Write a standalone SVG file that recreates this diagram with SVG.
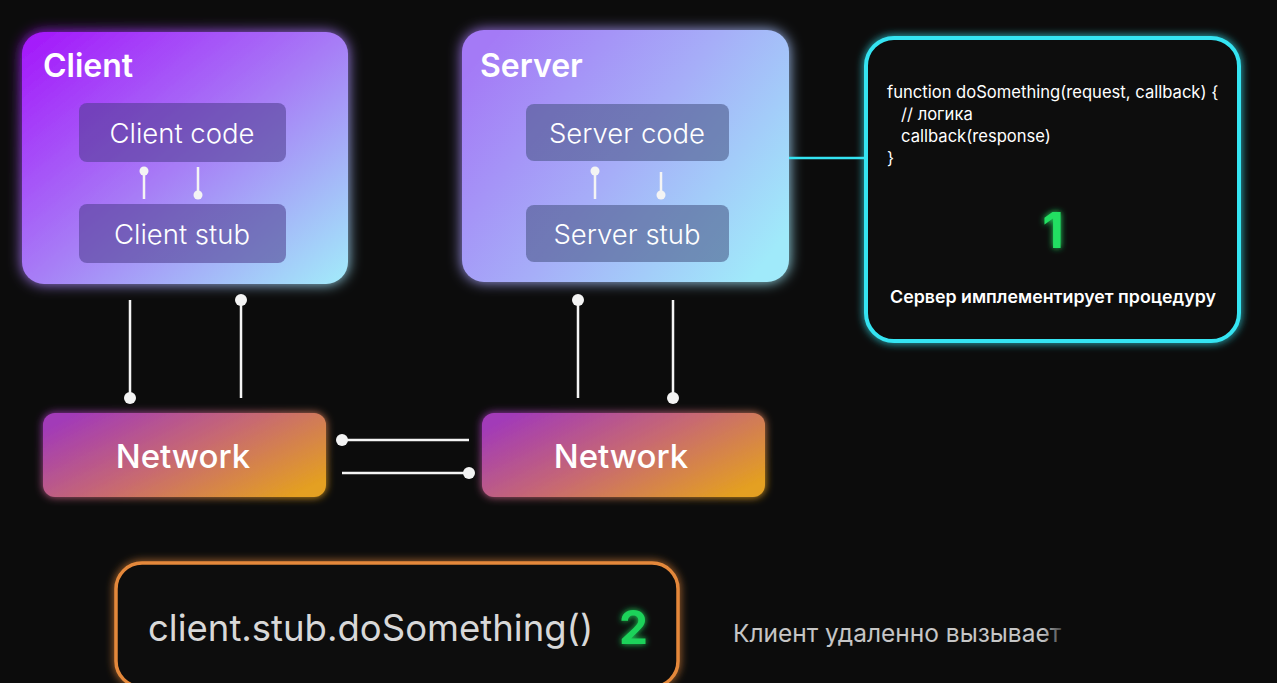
<svg xmlns="http://www.w3.org/2000/svg" width="1277" height="683" viewBox="0 0 1277 683">
<defs>
<linearGradient id="gClient" x1="0" y1="0" x2="1" y2="1">
<stop offset="0" stop-color="#a414fb"/>
<stop offset="0.5" stop-color="#a77cf6"/>
<stop offset="1" stop-color="#a2ecfa"/>
</linearGradient>
<linearGradient id="gServer" x1="0" y1="0.2" x2="1" y2="0.8">
<stop offset="0" stop-color="#a47af6"/>
<stop offset="0.5" stop-color="#a6aef8"/>
<stop offset="1" stop-color="#a0eafa"/>
</linearGradient>
<linearGradient id="gNet" x1="0" y1="0.2" x2="1" y2="0.8">
<stop offset="0" stop-color="#a23ab8"/>
<stop offset="0.5" stop-color="#c86a70"/>
<stop offset="1" stop-color="#e4a020"/>
</linearGradient>
<linearGradient id="gCap" x1="0" y1="0" x2="1" y2="0">
<stop offset="0.94" stop-color="#c6c6c6"/>
<stop offset="1" stop-color="#c6c6c6" stop-opacity="0.3"/>
</linearGradient>
<filter id="glow" x="-20%" y="-20%" width="140%" height="140%">
<feGaussianBlur in="SourceGraphic" stdDeviation="7" result="b"/>
<feMerge><feMergeNode in="b"/><feMergeNode in="SourceGraphic"/></feMerge>
</filter>
<filter id="glowS" x="-20%" y="-20%" width="140%" height="140%">
<feGaussianBlur in="SourceGraphic" stdDeviation="4" result="b"/>
<feMerge><feMergeNode in="b"/><feMergeNode in="SourceGraphic"/></feMerge>
</filter>
<filter id="glowT" x="-50%" y="-50%" width="200%" height="200%">
<feGaussianBlur in="SourceGraphic" stdDeviation="3" result="b"/>
<feMerge><feMergeNode in="b"/><feMergeNode in="SourceGraphic"/></feMerge>
</filter>
</defs>
<style>
text{font-family:Inter,"Liberation Sans","Noto Sans",sans-serif}
.title{fill:#fff;font-size:32px;font-weight:600}
.inner{fill:#4a3a8a;fill-opacity:0.55}
.innerT{fill:#fff;font-size:27.5px;font-weight:300;text-anchor:middle}
.netT{fill:#fff;font-size:33px;font-weight:500;text-anchor:middle}
.code{fill:#fff;font-size:16.6px;font-weight:400}
.wire{stroke:#f4f4f4;stroke-width:2.5;fill:none}
.dot{fill:#f4f4f4}
</style>
<rect width="1277" height="683" fill="#0c0c0c"/>

<g id="client">
<rect x="22" y="32" width="326" height="252" rx="22" fill="url(#gClient)" filter="url(#glow)"/>
<text x="43" y="77" class="title">Client</text>
</g>
<g id="client-code">
<rect x="79" y="103" width="207" height="59" rx="8" class="inner"/>
<text x="182" y="143" class="innerT">Client code</text>
</g>
<g id="client-stub">
<rect x="79" y="204" width="207" height="59" rx="8" class="inner"/>
<text x="182" y="244" class="innerT">Client stub</text>
</g>

<g id="server">
<rect x="462" y="30" width="327" height="252" rx="22" fill="url(#gServer)" filter="url(#glow)"/>
<text x="480" y="77" class="title">Server</text>
</g>
<g id="server-code">
<rect x="526" y="104" width="203" height="57" rx="8" class="inner" style="fill:#445080"/>
<text x="627" y="143" class="innerT">Server code</text>
</g>
<g id="server-stub">
<rect x="526" y="205" width="203" height="57" rx="8" class="inner" style="fill:#445080"/>
<text x="627" y="244" class="innerT">Server stub</text>
</g>

<g id="code-box">
<rect x="866" y="38" width="373" height="303" rx="28" fill="#0c0c0c" stroke="#34e4f2" stroke-width="4" filter="url(#glowS)"/>
<text x="887" y="98" class="code">function doSomething(request, callback) {</text>
<text x="901" y="120" class="code">// логика</text>
<text x="901" y="142" class="code">callback(response)</text>
<text x="887" y="164" class="code">}</text>
<text x="1053" y="248" fill="#22e062" font-size="50" font-weight="700" text-anchor="middle" filter="url(#glowT)">1</text>
<text x="1053" y="303" fill="#fff" font-size="17.8" font-weight="600" text-anchor="middle">Сервер имплементирует процедуру</text>
</g>

<g id="network-left">
<rect x="43" y="413" width="283" height="84" rx="12" fill="url(#gNet)" filter="url(#glowS)"/>
<text x="183" y="468" class="netT">Network</text>
</g>
<g id="network-right">
<rect x="482" y="413" width="283" height="84" rx="12" fill="url(#gNet)" filter="url(#glowS)"/>
<text x="621" y="468" class="netT">Network</text>
</g>

<g id="call-box">
<rect x="116" y="563" width="562" height="124" rx="26" fill="#0a0a0a" stroke="#e4883a" stroke-width="3.5" filter="url(#glowS)"/>
<text x="148" y="641" fill="#d8d8d8" font-size="36.5" font-weight="400">client.stub.doSomething()</text>
<text x="619" y="644" fill="#1fd25a" font-size="46" font-weight="700" filter="url(#glowT)">2</text>
</g>
<g id="caption">
<text x="733" y="642" fill="url(#gCap)" font-size="24.5" font-weight="400">Клиент удаленно вызывает</text>
</g>

<g id="connectors">
<line x1="144" y1="171" x2="144" y2="199" class="wire"/><circle cx="144" cy="171" r="4.5" class="dot"/>
<line x1="198" y1="167" x2="198" y2="195" class="wire"/><circle cx="198" cy="195" r="4.5" class="dot"/>
<line x1="595" y1="171" x2="595" y2="199" class="wire"/><circle cx="595" cy="171" r="4.5" class="dot"/>
<line x1="661" y1="172" x2="661" y2="195" class="wire"/><circle cx="661" cy="195" r="4.5" class="dot"/>
<line x1="789" y1="158" x2="866" y2="158" stroke="#34e4f2" stroke-width="2.5"/>
<line x1="130" y1="300" x2="130" y2="398" class="wire"/><circle cx="130" cy="398" r="6" class="dot"/>
<line x1="241" y1="300" x2="241" y2="398" class="wire"/><circle cx="241" cy="300" r="6" class="dot"/>
<line x1="578" y1="300" x2="578" y2="398" class="wire"/><circle cx="578" cy="300" r="6" class="dot"/>
<line x1="673" y1="300" x2="673" y2="398" class="wire"/><circle cx="673" cy="398" r="6" class="dot"/>
<line x1="342" y1="440" x2="469" y2="440" class="wire"/><circle cx="342" cy="440" r="6" class="dot"/>
<line x1="342" y1="473" x2="469" y2="473" class="wire"/><circle cx="469" cy="473" r="6" class="dot"/>
</g>
</svg>
